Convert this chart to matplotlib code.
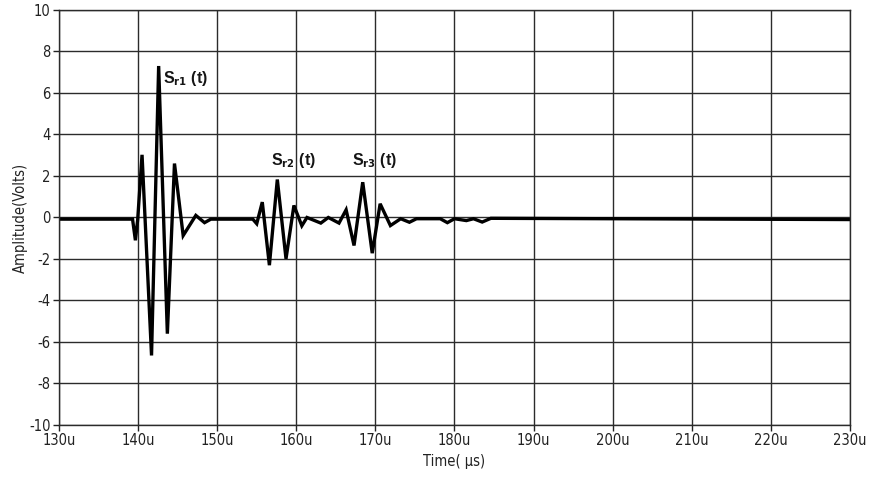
import matplotlib
matplotlib.use('Agg')
import matplotlib.pyplot as plt
import numpy as np

# waveform keypoints (time in us, amplitude in V)
t_us = [130.0, 139.3, 139.66, 139.95, 140.5, 141.7, 142.6, 143.7, 144.6, 145.7,
        147.3, 148.4, 149.2, 154.5, 155.0, 155.7, 156.6, 157.6, 158.7, 159.7, 160.7,
        161.35, 163.1, 164.05, 165.4, 166.3, 167.3, 168.4, 169.6, 170.6, 171.9,
        173.2, 174.3, 175.2, 178.2, 179.1, 180.0, 181.5, 182.4, 183.5, 184.6,
        230.0]
amp = [-0.08, -0.08, -1.1, -0.1, 3.02, -6.65, 7.3, -5.6, 2.6, -0.87,
       0.1, -0.25, -0.08, -0.08, -0.3, 0.74, -2.3, 1.83, -1.99, 0.58, -0.4,
       0.0, -0.27, 0.0, -0.27, 0.37, -1.35, 1.7, -1.72, 0.66, -0.39,
       -0.06, -0.23, -0.06, -0.06, -0.25, -0.06, -0.15, -0.06, -0.22, -0.04,
       -0.1]

x_ticks = np.arange(130, 231, 10)
x_labels = [f'{v}u' for v in x_ticks]
y_ticks = np.arange(-10, 11, 2)

labels = ['S$_{r1}$ (t)', 'S$_{r2}$ (t)', 'S$_{r3}$ (t)']
label_pos = [(143.2, 6.7), (156.8, 2.75), (167.1, 2.75)]

plt.rcParams['font.family'] = ['DejaVu Sans']
plt.rcParams['font.stretch'] = 'condensed'
plt.rcParams['mathtext.default'] = 'bf'
plt.rcParams['axes.unicode_minus'] = False

fig = plt.figure(figsize=(8.7, 4.82), dpi=100)
ax = fig.add_axes([0.0678, 0.1183, 0.9092, 0.8610])

ax.plot(t_us, amp, color='black', lw=2.4, solid_joinstyle='miter')

ax.set_xlim(130, 230)
ax.set_ylim(-10, 10)
ax.set_xticks(x_ticks)
ax.set_xticklabels(x_labels)
ax.set_yticks(y_ticks)
ax.grid(True, color='#2b2b2b', lw=1.0)
ax.set_axisbelow(True)
for s in ax.spines.values():
    s.set_color('#2b2b2b')
    s.set_linewidth(1.0)
ax.tick_params(axis='both', labelsize=10.5, colors='#222222', length=4, width=1, pad=2)

ax.set_xlabel('Time( µs)', fontsize=10.5, labelpad=4, color='#222222')
ax.set_ylabel('Amplitude(Volts)', fontsize=10.5, labelpad=1, color='#222222')

for txt, (x, y) in zip(labels, label_pos):
    ax.text(x, y, txt, fontsize=11.5, fontweight='bold', va='center', ha='left',
            family=['Liberation Sans', 'DejaVu Sans'], color='#151515')

fig.savefig('out.png', dpi=100)
